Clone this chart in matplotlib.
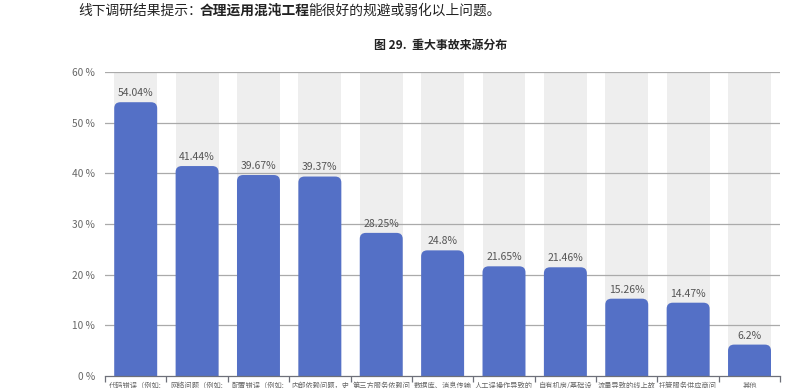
import matplotlib.pyplot as plt
import matplotlib as mpl
from matplotlib.patches import FancyBboxPatch

mpl.rcParams['font.family'] = ['Noto Sans CJK SC', 'DejaVu Sans']

# data
categories = ["代码错误（例如:", "网络问题（例如:", "配置错误（例如:", "内部依赖问题，史",
              "第三方服务依赖问", "数据库、消息传输", "人工误操作导致的", "自有机房/基础设",
              "流量导致的线上故", "托管服务供应商问", "其他"]
values = [54.04, 41.44, 39.67, 39.37, 28.25, 24.8, 21.65, 21.46, 15.26, 14.47, 6.2]
value_labels = ["54.04%", "41.44%", "39.67%", "39.37%", "28.25%", "24.8%",
                "21.65%", "21.46%", "15.26%", "14.47%", "6.2%"]
yticks = [0, 10, 20, 30, 40, 50, 60]

bar_color = "#5470c6"
bg_color = "#eeeeee"
bar_width = 0.70

fig = plt.figure(figsize=(8.06, 3.88), dpi=100)
ax = fig.add_axes([0.1303, 0.0309, 0.8377, 0.7835])
ax.set_xlim(-0.5, len(categories) - 0.5)
ax.set_ylim(0, 60)

# grey background bars
x = list(range(len(categories)))
ax.bar(x, [60] * len(x), width=bar_width, color=bg_color, zorder=1)

# gridlines
for t in yticks[1:]:
    ax.axhline(t, color="#aaaaaa", lw=0.9, zorder=2)

# rounded bars (bottom sunk below 0, clipped by axes)
for i, v in enumerate(values):
    p = FancyBboxPatch((i - bar_width / 2, -3), bar_width, v + 3,
                       boxstyle="round,pad=0,rounding_size=0.1",
                       mutation_aspect=12, facecolor=bar_color,
                       edgecolor="none", zorder=3)
    ax.add_patch(p)
    ax.text(i, v + 0.8, value_labels[i], ha="center", va="bottom",
            fontsize=7.5, color="#555555", zorder=4)

ax.set_yticks(yticks)
ax.set_yticklabels([f"{t} %" for t in yticks], fontsize=7.3, color="#666666")
ax.tick_params(axis="y", length=0, pad=7)

ax.set_xticks([i + 0.5 for i in range(-1, len(categories))])
ax.set_xticklabels([])
ax.set_xticks(x, minor=True)
ax.set_xticklabels(categories, minor=True, fontsize=5.2, color="#666666")
ax.tick_params(axis="x", which="major", length=4, color="#6e7079", width=0.9)
ax.tick_params(axis="x", which="minor", length=0, pad=4)

for s in ["top", "right", "left"]:
    ax.spines[s].set_visible(False)
ax.spines["bottom"].set_color("#6e7079")
ax.spines["bottom"].set_linewidth(0.9)
ax.spines["bottom"].set_zorder(5)

# title
fig.text(0.546, 0.884, "图 29.  重大事故来源分布", ha="center", va="center",
         fontsize=8.6, fontweight="bold", color="#222222")

# intro sentence with bold part
parts = [("线下调研结果提示：", "normal"), ("合理运用混沌工程", "bold"),
         ("能很好的规避或弱化以上问题。", "normal")]
fig.canvas.draw()
renderer = fig.canvas.get_renderer()
xpos = 78 / 806
for txt, w in parts:
    t = fig.text(xpos, 1 - 11 / 388, txt, ha="left", va="center",
                 fontsize=9.9, fontweight=w, color="#222222")
    bb = t.get_window_extent(renderer=renderer)
    xpos += (bb.width - 2) / fig.bbox.width

fig.savefig("out.png", dpi=100)
